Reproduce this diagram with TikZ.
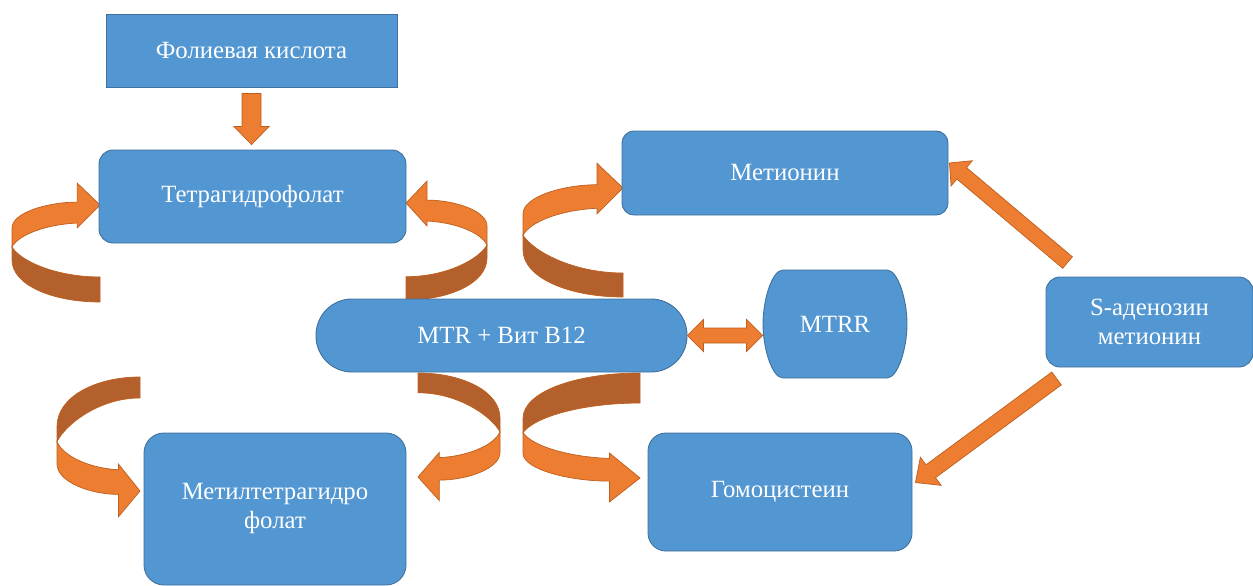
\documentclass[tikz,border=0pt]{standalone}
\usepackage{fontspec}
\setmainfont{Liberation Serif}
\usetikzlibrary{calc}
\definecolor{boxblue}{RGB}{82,150,210}
\definecolor{boxedge}{RGB}{65,113,156}
\definecolor{arrorange}{RGB}{237,125,49}
\definecolor{arredge}{RGB}{190,95,30}
\definecolor{arrdark}{RGB}{180,96,45}
\tikzset{
 box/.style={draw=boxedge, fill=boxblue, line width=0.9pt, text=white, font=\fontsize{24.8}{29}\selectfont, align=center, inner sep=0pt},
 boxline/.style={draw=boxedge, fill=boxblue, line width=0.9pt},
 barrow/.style={draw=arredge, fill=arrorange, line width=0.7pt, line join=miter},
 darkside/.style={draw=arredge, fill=arrdark, line width=0.7pt},
 frontside/.style={draw=arredge, fill=arrorange, line width=0.7pt, line join=miter}
}
% curved (twisted) block arrow: #1,#2 tail outer corner, #3 x extent, #4 y extent to tip, #5 tail thickness fraction
\newcommand\curvedarr[5]{%
\begin{scope}[shift={(#1,#2)}, xscale=#3, yscale=#4]
\path[darkside] (0,0) .. controls (0.55,0) and (1,0.18) .. (1,0.433) -- (1,0.567) .. controls (0.9,0.42) and (0.5,#5) .. (0,#5) -- cycle;
\path[frontside] (1,0.567) -- (1,0.763) .. controls (1,0.92) and (0.6,1.03) .. (0.26,1.03) -- (0.26,1.227) -- (0,1) -- (0.26,0.763) -- (0.26,0.814) .. controls (0.6,0.8) and (0.92,0.7) .. (1,0.567) -- cycle;
\end{scope}}
% straight block arrow from #1 to #2, shaft half width #3, head half width #4, head length #5
\newcommand\blockarr[5]{%
\coordinate (hb) at ($(#2)!#5!(#1)$);
\path[barrow] ($(#1)!#3!90:(#2)$) -- ($(hb)!#3!-90:(#1)$) -- ($(hb)!#4!-90:(#1)$) -- (#2) -- ($(hb)!#4!90:(#1)$) -- ($(hb)!#3!90:(#1)$) -- ($(#1)!#3!-90:(#2)$) -- cycle;}
% double block arrow between #1 and #2
\newcommand\dblockarr[5]{%
\coordinate (ha) at ($(#1)!#5!(#2)$);
\coordinate (hb) at ($(#2)!#5!(#1)$);
\path[barrow] (#1) -- ($(ha)!#4!90:(#2)$) -- ($(ha)!#3!90:(#2)$) -- ($(hb)!#3!-90:(#1)$) -- ($(hb)!#4!-90:(#1)$) -- (#2) -- ($(hb)!#4!90:(#1)$) -- ($(hb)!#3!90:(#1)$) -- ($(ha)!#3!-90:(#2)$) -- ($(ha)!#4!-90:(#2)$) -- cycle;}
\begin{document}
\begin{tikzpicture}[x=1pt,y=-1pt]
\useasboundingbox (0,0) rectangle (1253,586);
% curved arrows
\curvedarr{100}{302}{-88}{-97}{0.258}
\curvedarr{406}{300}{81}{-97}{0.24}
\curvedarr{623}{297}{-100}{-109}{0.22}
\curvedarr{140}{377}{-83}{114}{0.184}
\curvedarr{418}{373}{82}{104}{0.19}
\curvedarr{640}{373}{-117}{105}{0.286}
% MTRR outline
\path[boxline] (783,270) -- (887,270) .. controls (898,270) and (907,300) .. (907,324) .. controls (907,348) and (898,378) .. (887,378) -- (783,378) .. controls (772,378) and (763,348) .. (763,324) .. controls (763,300) and (772,270) .. (783,270) -- cycle;
% boxes
\node[box, minimum width=291pt, minimum height=73pt] (fol) at (251.5,50.5) {Фолиевая кислота};
\node[box, rounded corners=14pt, minimum width=307pt, minimum height=93pt] (tetra) at (252.5,196.5) {Тетрагидрофолат};
\node[box, rounded corners=12pt, minimum width=326pt, minimum height=84pt] (met) at (785,173) {Метионин};
\node[box, rounded corners=36pt, minimum width=371pt, minimum height=73pt] (mtr) at (501.5,335.5) {MTR + Вит B12};
\node[box, draw=none, fill=none, minimum width=144pt, minimum height=108pt] (mtrr) at (835,324) {MTRR};
\node[box, rounded corners=14pt, minimum width=207pt, minimum height=90pt] (sam) at (1149.5,322) {S-аденозин\\метионин};
\node[box, rounded corners=18pt, minimum width=264pt, minimum height=118pt] (homo) at (780,492) {Гомоцистеин};
\node[box, rounded corners=20pt, minimum width=262pt, minimum height=152pt] (methyl) at (275,509) {Метилтетрагидро\\фолат};
% straight arrows
\coordinate (d1) at ($(fol.south)+(0,6)$);
\coordinate (d2) at ($(d1 |- tetra.north)+(0,-5)$);
\blockarr{d1}{d2}{9.5pt}{17.5pt}{18pt}
\coordinate (s1) at ($(sam.north west)+(22,-14)$);
\coordinate (t1) at ($(met.east)+(1,-10)$);
\blockarr{s1}{t1}{7.5pt}{16.5pt}{16pt}
\coordinate (s2) at ($(sam.south west)+(11,11)$);
\coordinate (t2) at ($(homo.north east)+(3,50)$);
\blockarr{s2}{t2}{8pt}{17.5pt}{19pt}
\coordinate (m1) at (mtr.east);
\coordinate (m2) at (mtrr.west |- mtr.east);
\dblockarr{m1}{m2}{7.5pt}{16pt}{16pt}
\end{tikzpicture}
\end{document}
